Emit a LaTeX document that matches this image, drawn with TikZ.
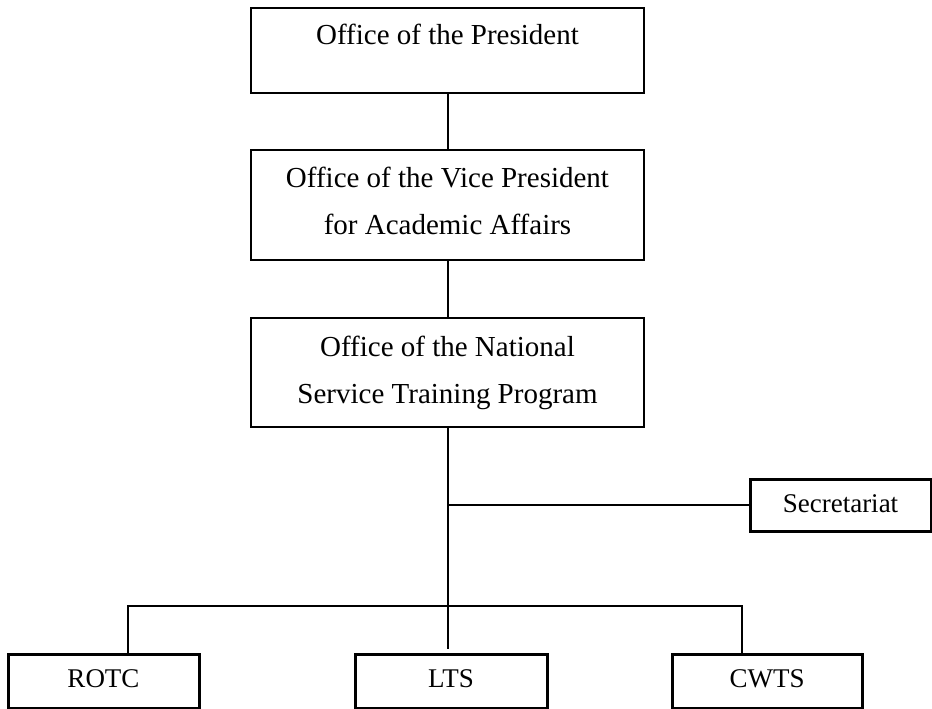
\documentclass[tikz,border=0pt]{standalone}
\usepackage{fontspec}
\setmainfont{Liberation Serif}
\begin{document}
\begin{tikzpicture}[x=1pt,y=-1pt,
  office/.style={draw, line width=2pt, inner sep=0pt, minimum width=393pt},
  unitbox/.style={draw, line width=3pt, inner sep=0pt, minimum height=54pt},
  caption/.style={font=\fontsize{29}{47}\selectfont, align=center, anchor=north, inner sep=0pt},
  smalltext/.style={font=\fontsize{27}{32}\selectfont, anchor=base, inner sep=0pt},
  link/.style={line width=2pt}]
\useasboundingbox (0,0) rectangle (932,709);

% Offices, top to bottom
\node[office, minimum height=85pt]  (pres) at (447.5,50.5) {};
\node[office, minimum height=110pt] (vp)   at (447.5,205)  {};
\node[office, minimum height=109pt] (nstp) at (447.5,372.5) {};

\node[caption] (prestext) at (447.5,24) {Office of the President};
\node[caption] (vptext)   at (447.5,167) {Office of the Vice President\\for Academic Affairs};
\node[caption] (nstptext) at (447.5,336) {Office of the National\\Service Training Program};

% Staff unit and components
\node[draw, line width=3pt, inner sep=0pt, minimum width=181pt, minimum height=52pt] (sec) at (840.5,505) {};
\node[unitbox, minimum width=191pt] (rotc) at (103.5,681) {};
\node[unitbox, minimum width=192pt] (lts)  at (451,681)   {};
\node[unitbox, minimum width=190pt] (cwts) at (767,681)   {};

\node[smalltext] (sectext)  at (840.5,512) {Secretariat};
\node[smalltext] (rotctext) at (103.5,687) {ROTC};
\node[smalltext] (ltstext)  at (451,687)   {LTS};
\node[smalltext] (cwtstext) at (767,687)   {CWTS};

% Connectors
\coordinate (busL) at (128,606);
\coordinate (busR) at (742,606);
\coordinate (stem) at (448,606);

\draw[link] (pres.south) -- (vp.north);
\draw[link] (vp.south) -- (nstp.north);
\draw[link, shorten >=4pt] (nstp.south -| stem) -- (stem |- lts.north);
\draw[link] (stem |- sec.west) -- (sec.west);
\draw[link] (busL |- rotc.north) -- (busL) -- (busR) -- (busR |- cwts.north);
\end{tikzpicture}
\end{document}
